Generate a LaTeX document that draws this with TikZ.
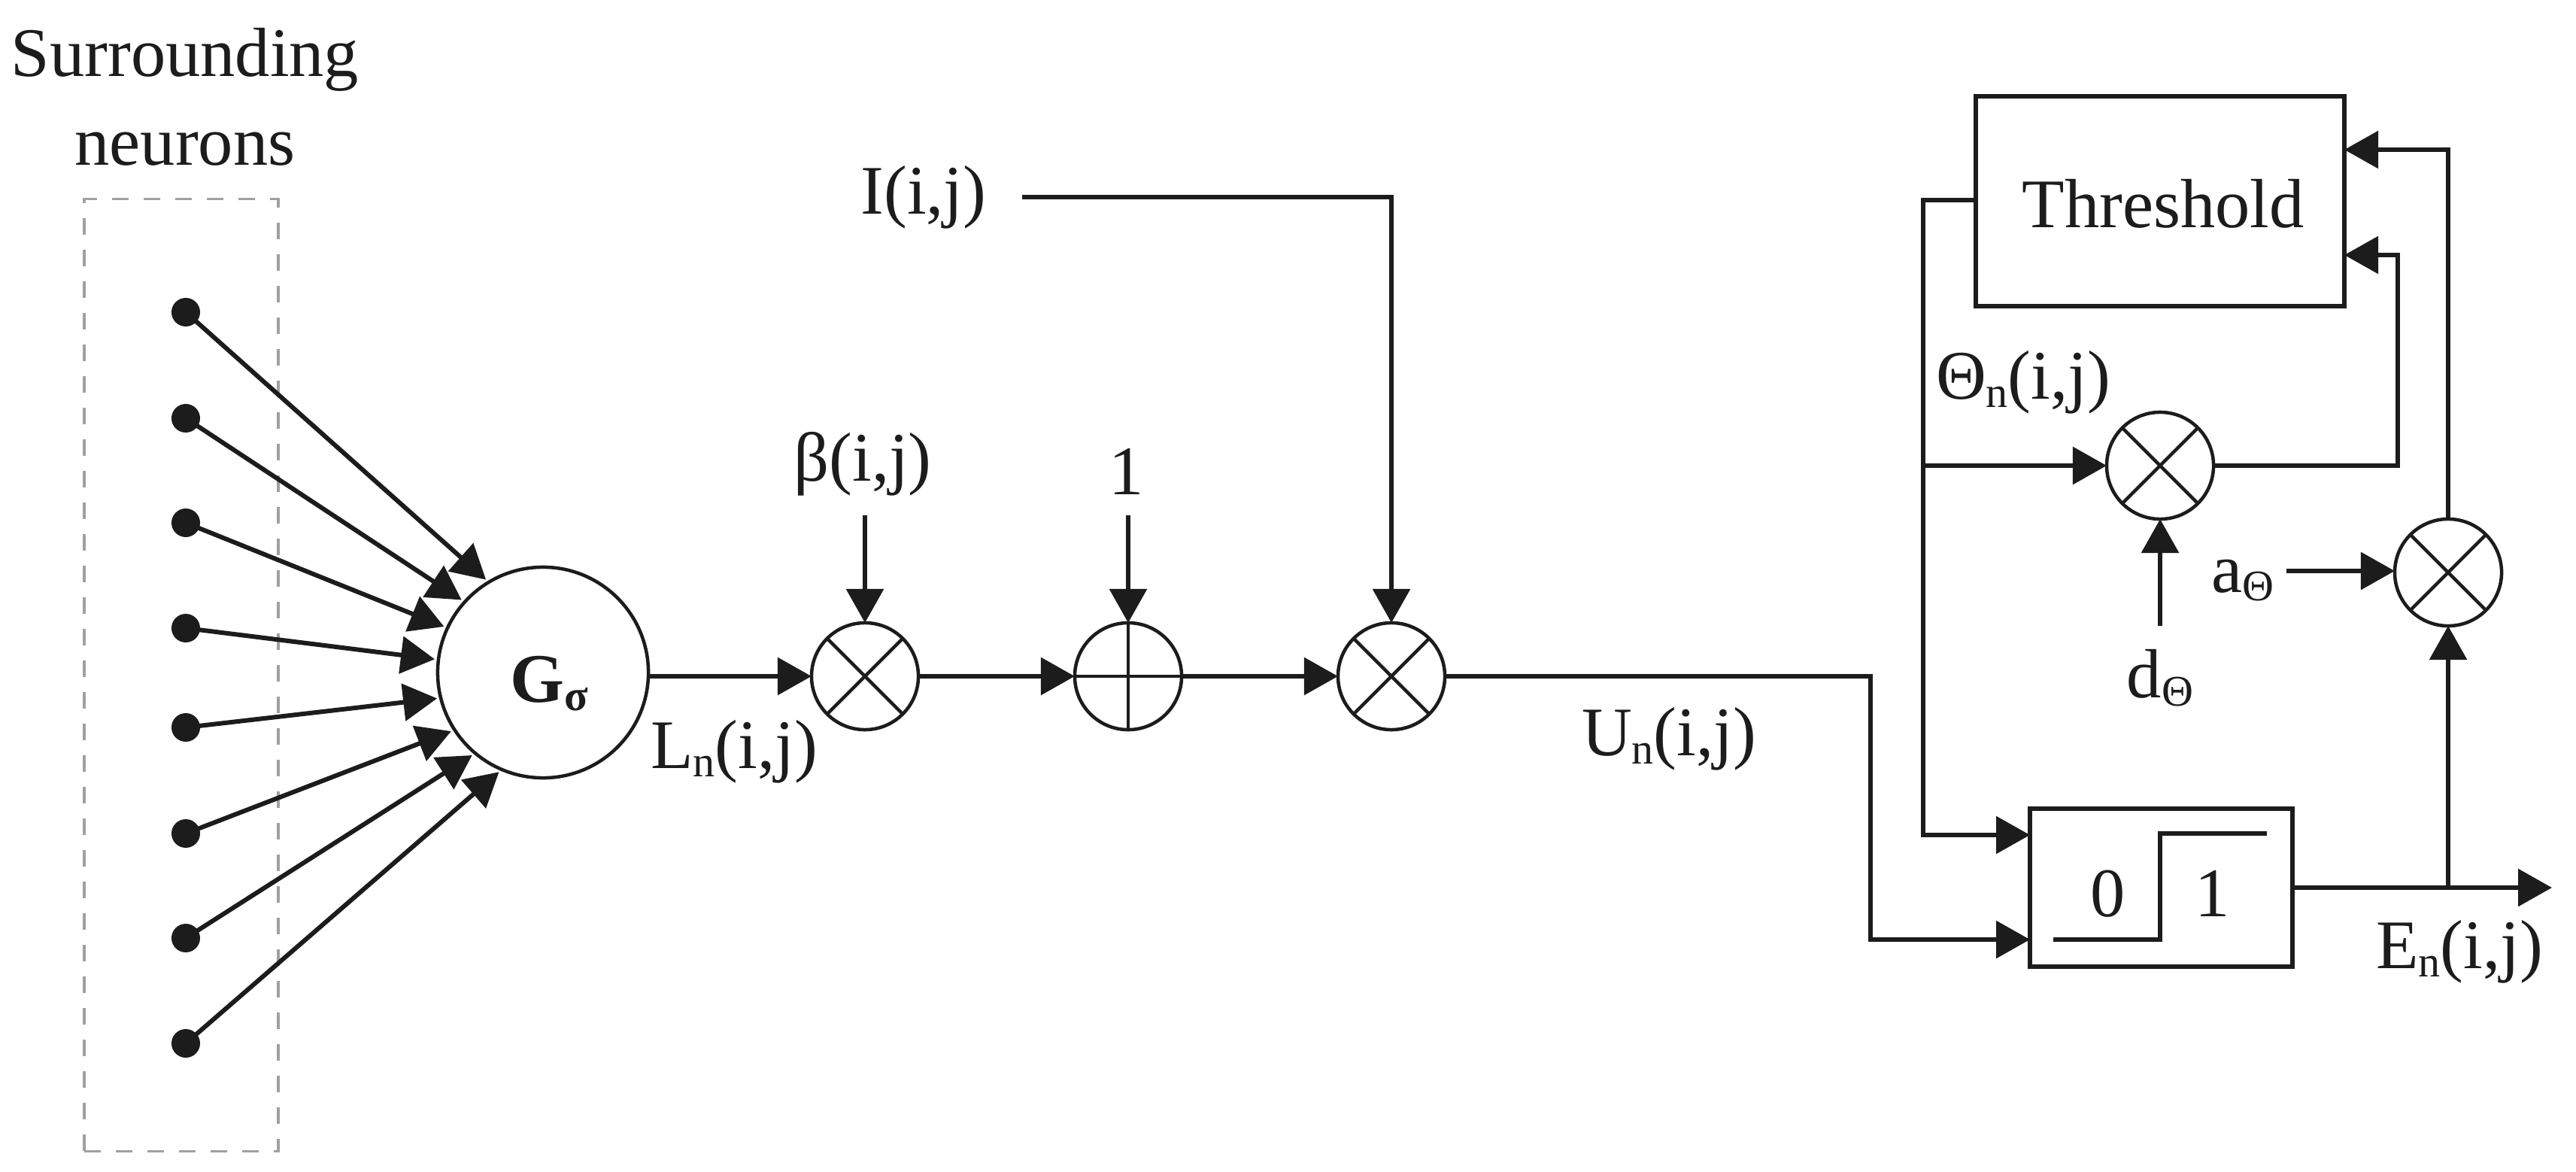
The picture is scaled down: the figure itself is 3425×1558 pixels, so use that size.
\documentclass[tikz,border=0pt]{standalone}
\usepackage{fontspec}
\setmainfont{Liberation Serif}
\usetikzlibrary{arrows.meta}
\definecolor{ink}{HTML}{1C1C1C}
\definecolor{dashgray}{HTML}{A0A0A0}
\newcommand{\lowsub}[1]{\raisebox{-0.11cm}{\fontsize{16.5pt}{16.5pt}\selectfont #1}}
\tikzset{
  lab/.style={font=\fontsize{26.3pt}{30pt}\selectfont,text=ink,inner sep=0pt,outer sep=0pt,anchor=base},
  wire/.style={draw=ink,line width=0.06cm,line join=miter},
  flow/.style={wire,-{Triangle[length=0.45cm,width=0.49cm]}},
  sumnode/.style={circle,draw=ink,line width=0.045cm,minimum size=1.42cm,inner sep=0pt,outer sep=0pt},
  neuron/.style={circle,fill=ink,minimum size=0.38cm,inner sep=0pt,outer sep=0pt},
  blockbox/.style={rectangle,draw=ink,line width=0.055cm,inner sep=0pt,outer sep=0pt},
  crossline/.style={draw=ink,line width=0.045cm},
  fan/.style={flow,shorten >=0.05cm},
}
\begin{document}
\begin{tikzpicture}[x=0.01cm,y=-0.01cm]
\useasboundingbox (0,0) rectangle (3425,1558);
\fill[white] (0,0) rectangle (3425,1558);

% surrounding neurons
\node[lab] (surr1) at (246,102) {Surrounding};
\node[lab] (surr2) at (246,220) {neurons};
\node[rectangle,draw=dashgray,line width=0.035cm,dash pattern=on 0.22cm off 0.2cm,
      minimum width=2.58cm,minimum height=12.65cm,inner sep=0pt,outer sep=0pt] (group) at (241,897.5) {};

\node[neuron] (d1) at (247,415) {};
\node[neuron] (d2) at (247,556) {};
\node[neuron] (d3) at (247,695) {};
\node[neuron] (d4) at (247,835) {};
\node[neuron] (d5) at (247,967) {};
\node[neuron] (d6) at (247,1108) {};
\node[neuron] (d7) at (247,1247) {};
\node[neuron] (d8) at (247,1387) {};

\node[sumnode,minimum size=2.8cm] (g) at (722,894) {};
\node[lab] (gtext) at (730,933) {\textbf{G\lowsub{σ}}};

\foreach \i/\a in {1/121,2/138,3/155,4/173,5/194,6/213,7/230,8/247}
  \draw[fan] (d\i.center) -- (g.\a);

% main chain
\node[sumnode] (mb) at (1150,899) {};
\node[sumnode] (pl) at (1500,899) {};
\node[sumnode] (mi) at (1850,899) {};
\draw[crossline] (mb.45) -- (mb.225) (mb.135) -- (mb.315);
\draw[crossline] (mi.45) -- (mi.225) (mi.135) -- (mi.315);
\draw[crossline] (pl.north) -- (pl.south) (pl.west) -- (pl.east);

\draw[flow] (g.east |- mb.west) -- (mb.west);
\draw[flow] (mb.east) -- (pl.west);
\draw[flow] (pl.east) -- (mi.west);

\node[lab] (ln) at (976,1021) {L\lowsub{n}(i,j)};
\node[lab] (beta) at (1147,639) {β(i,j)};
\node[lab] (one) at (1498,657) {1};
\node[lab] (ii) at (1228,285) {I(i,j)};
\node[lab] (un) at (2219,1004) {U\lowsub{n}(i,j)};

\coordinate (bstart) at (1150,685);
\coordinate (ostart) at (1500,685);
\coordinate (istart) at (1359,262);
\coordinate (icorner) at (1850,262);
\draw[flow] (bstart) -- (mb.north);
\draw[flow] (ostart) -- (pl.north);
\draw[flow] (istart) -- (icorner) -- (mi.north);

% threshold block
\node[blockbox,font=\fontsize{26.3pt}{30pt}\selectfont,text=ink,text height=0.69cm,text depth=0cm,
      minimum width=4.9cm,minimum height=2.79cm] (th) at (2872,267.5) {\hspace*{0.08cm}Threshold};

% multipliers on the right
\node[sumnode] (m1) at (2872,619) {};
\node[sumnode] (m2) at (3255,761) {};
\draw[crossline] (m1.45) -- (m1.225) (m1.135) -- (m1.315);
\draw[crossline] (m2.45) -- (m2.225) (m2.135) -- (m2.315);

% step block
\node[blockbox,minimum width=3.49cm,minimum height=2.1cm] (st) at (2873.5,1180) {};
\coordinate (sa) at (2730,1249);
\coordinate (sb) at (2872,1249);
\coordinate (sc) at (2872,1108);
\coordinate (sd) at (3014,1108);
\draw[wire] (sa) -- (sb) -- (sc) -- (sd);
\node[lab] (zero) at (2803,1218) {0};
\node[lab] (uno) at (2942,1218) {1};

% right side wiring
\coordinate (tl) at (2557,266);
\coordinate (tj) at (2557,619);
\coordinate (tb) at (2557,1110);
\coordinate (sti) at (2699,1110);
\draw[flow] (th.west |- tl) -- (tl) -- (tb) -- (sti);
\draw[flow] (tj) -- (m1.west);

\coordinate (mr) at (3188,619);
\coordinate (mt) at (3188,339);
\coordinate (tin) at (3117,339);
\draw[flow] (m1.east) -- (mr) -- (mt) -- (tin);

\coordinate (ut) at (3255,199);
\coordinate (tup) at (3117,199);
\draw[flow] (m2.north) -- (ut) -- (tup);

\coordinate (ds) at (2872,832);
\draw[flow] (ds) -- (m1.south);
\coordinate (as) at (3040,759);
\draw[flow] (as) -- (m2.west |- as);

\coordinate (out) at (3393,1180);
\coordinate (oj) at (3255,1180);
\draw[flow] (st.east) -- (out);
\draw[flow] (oj) -- (m2.south);

\coordinate (uc) at (2487,899);
\coordinate (ud) at (2487,1249);
\coordinate (sui) at (2699,1249);
\draw[flow] (mi.east) -- (uc) -- (ud) -- (sui);

\node[lab] (theta) at (2690,530) {Θ\lowsub{n}(i,j)};
\node[lab] (dth) at (2872,927) {d\lowsub{Θ}};
\node[lab] (ath) at (2982,787) {a\lowsub{Θ}};
\node[lab] (en) at (3270,1287) {E\lowsub{n}(i,j)};
\end{tikzpicture}
\end{document}
